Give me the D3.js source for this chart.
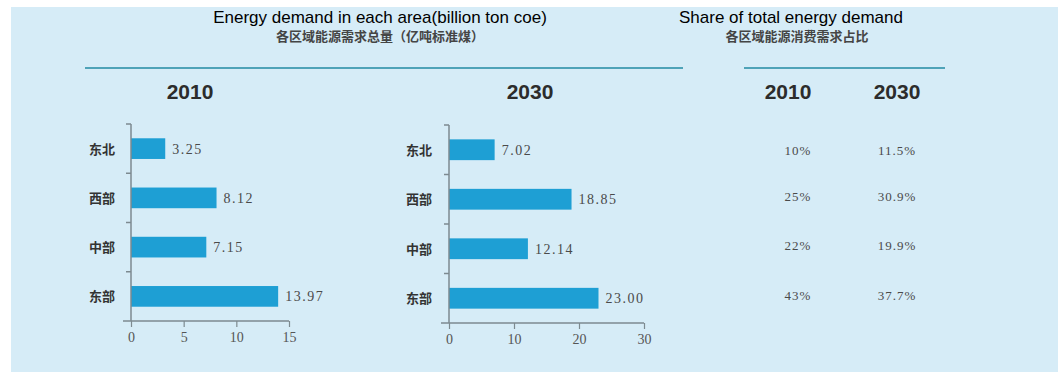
<!DOCTYPE html>
<html lang="zh">
<head>
    <meta charset="UTF-8">
    <title>各区域能源需求</title>
    <script src="https://d3js.org/d3.v7.min.js"></script>
    <style>
        body { margin: 0; background: #fff; }
        svg { display: block; }
    </style>
</head>
<body>
<script>
    // data
    var regions = ["东北", "西部", "中部", "东部"];
    var demand2010 = [3.25, 8.12, 7.15, 13.97];
    var demand2030 = [7.02, 18.85, 12.14, 23.00];
    var share2010 = ["10%", "25%", "22%", "43%"];
    var share2030 = ["11.5%", "30.9%", "19.9%", "37.7%"];
    var ticks2010 = [0, 5, 10, 15];
    var ticks2030 = [0, 10, 20, 30];

    var w = 1058;
    var h = 373;
    var barColor = "#1e9fd4";
    var axisColor = "#7d8a90";
    var cjk = "'Noto Sans CJK SC', sans-serif";
    var serif = "'Liberation Serif', 'DejaVu Serif', serif";
    var sans = "'Liberation Sans', Arial, sans-serif";

    var svg = d3.select("body")
        .append("svg")
        .attr("width", w)
        .attr("height", h);

    // light blue panel
    svg.append("rect")
        .attr("x", 11)
        .attr("y", 7)
        .attr("width", w - 11)
        .attr("height", h - 8)
        .attr("fill", "#d6ecf7");

    // titles
    function title(x, y, txt) {
        svg.append("text")
            .attr("x", x).attr("y", y)
            .attr("text-anchor", "middle")
            .style("font-family", sans).style("font-size", "17px")
            .text(txt);
    }
    function subtitle(x, y, txt) {
        svg.append("text")
            .attr("x", x).attr("y", y)
            .attr("text-anchor", "middle")
            .style("font-family", cjk).style("font-size", "13px")
            .style("font-weight", "bold").style("fill", "#454545")
            .text(txt);
    }
    title(380, 23, "Energy demand in each area(billion ton coe)");
    subtitle(380, 41, "各区域能源需求总量（亿吨标准煤）");
    title(791, 23, "Share of total energy demand");
    subtitle(797, 41, "各区域能源消费需求占比");

    // rules
    svg.append("line")
        .attr("x1", 85).attr("x2", 683).attr("y1", 68).attr("y2", 68)
        .attr("stroke", "#4fa3b8").attr("stroke-width", 2);
    svg.append("line")
        .attr("x1", 744).attr("x2", 945).attr("y1", 68).attr("y2", 68)
        .attr("stroke", "#4fa3b8").attr("stroke-width", 2);

    function yearHead(x, label) {
        svg.append("text")
            .attr("x", x).attr("y", 99)
            .attr("text-anchor", "middle")
            .style("font-family", sans).style("font-size", "21px")
            .style("font-weight", "bold").style("fill", "#2c2c2c")
            .text(label);
    }
    yearHead(190, "2010");
    yearHead(530, "2030");
    yearHead(788, "2010");
    yearHead(897, "2030");

    function drawPanel(values, ticks, x0, x1, top, bottom, labelRight) {
        var x = d3.scaleLinear()
            .domain([ticks[0], ticks[ticks.length - 1]])
            .range([x0, x1]);
        var y = d3.scaleBand()
            .domain(regions)
            .range([top, bottom])
            .paddingInner(0.58)
            .paddingOuter(0.29);

        var g = svg.append("g");

        g.selectAll("rect.bar")
            .data(values)
            .enter()
            .append("rect")
            .attr("class", "bar")
            .attr("x", x(0))
            .attr("y", function(d, i) { return y(regions[i]); })
            .attr("width", function(d) { return x(d) - x(0); })
            .attr("height", y.bandwidth())
            .attr("fill", barColor);

        g.selectAll("text.val")
            .data(values)
            .enter()
            .append("text")
            .attr("class", "val")
            .attr("x", function(d) { return x(d) + 7; })
            .attr("y", function(d, i) { return y(regions[i]) + y.bandwidth() / 2 + 5; })
            .style("font-family", serif).style("font-size", "14px")
            .style("letter-spacing", "1.5px")
            .style("fill", "#4a4a4a")
            .text(function(d) { return d.toFixed(2); });

        g.selectAll("text.cat")
            .data(regions)
            .enter()
            .append("text")
            .attr("class", "cat")
            .attr("x", labelRight)
            .attr("y", function(d) { return y(d) + y.bandwidth() / 2 + 5; })
            .attr("text-anchor", "end")
            .style("font-family", cjk).style("font-size", "13px")
            .style("font-weight", "bold").style("fill", "#333")
            .text(function(d) { return d; });

        // y axis, ticks on the band boundaries
        var bounds = regions.map(function(d, i) {
            return i === 0 ? top : y(d) - y.step() * y.paddingInner() / 2;
        });
        g.append("line")
            .attr("x1", x(0)).attr("x2", x(0))
            .attr("y1", top).attr("y2", bottom)
            .attr("stroke", axisColor).attr("stroke-width", 1.5);
        g.selectAll("line.yt")
            .data(bounds)
            .enter()
            .append("line")
            .attr("class", "yt")
            .attr("x1", x(0) - 5).attr("x2", x(0))
            .attr("y1", function(d) { return d; })
            .attr("y2", function(d) { return d; })
            .attr("stroke", axisColor).attr("stroke-width", 1.5);

        // x axis
        var xAxis = d3.axisBottom(x)
            .tickValues(ticks)
            .tickSize(6)
            .tickPadding(5);
        var ax = g.append("g")
            .attr("transform", "translate(0," + bottom + ")")
            .call(xAxis);
        ax.select(".domain").remove();
        ax.append("line")
            .attr("x1", x(0) - 8).attr("x2", x1)
            .attr("stroke", axisColor).attr("stroke-width", 1.5);
        ax.selectAll(".tick line").attr("stroke", axisColor).attr("stroke-width", 1.2);
        ax.selectAll(".tick text")
            .style("font-family", serif).style("font-size", "14px")
            .style("fill", "#555");
    }

    drawPanel(demand2010, ticks2010, 131, 289, 124, 321, 115);
    drawPanel(demand2030, ticks2030, 449, 644, 125, 323, 432);

    // share table
    var rowY = [155, 201, 250, 300];
    function shareCol(vals, cx) {
        svg.selectAll(null)
            .data(vals)
            .enter()
            .append("text")
            .attr("x", cx)
            .attr("y", function(d, i) { return rowY[i]; })
            .attr("text-anchor", "middle")
            .style("font-family", serif).style("font-size", "13px")
            .style("letter-spacing", "1px")
            .style("fill", "#4a4a4a")
            .text(function(d) { return d; });
    }
    shareCol(share2010, 798);
    shareCol(share2030, 897);
</script>
</body>
</html>
